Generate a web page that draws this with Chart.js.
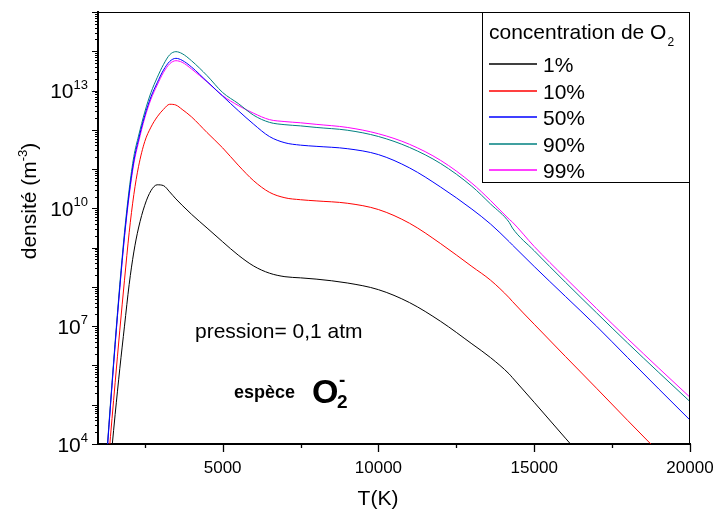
<!DOCTYPE html>
<html>
<head>
<meta charset="utf-8">
<script src="https://cdn.jsdelivr.net/npm/chart.js@4.4.1/dist/chart.umd.min.js"></script>
<style>
html, body { margin: 0; padding: 0; background: #fff; }
</style>
</head>
<body>
<canvas id="chart" width="718" height="524"></canvas>
<script>
// temperature grid (K)
const temps = [1250, 1350, 1450, 1550, 1700, 1850, 2000, 2150, 2300, 2500, 2700, 2900, 3100, 3300, 3500, 3700, 4000, 4500, 5000, 5500, 6000, 6500, 7000, 7500, 8000, 9000, 10000, 11000, 12000, 13000, 13600, 14200, 14300, 15000, 16000, 17000, 18000, 19000, 20000]

// densité (m^-3) for each O2 concentration
const dens1 = [1.55e2, 1.15e3, 8.32e3, 5.62e4, 8.32e5, 1.00e7, 1.15e8, 7.76e8, 3.16e9, 1.20e10, 2.82e10, 3.98e10, 3.80e10, 2.63e10, 1.74e10, 1.20e10, 7.08e9, 3.16e9, 1.41e9, 6.46e8, 3.39e8, 2.24e8, 1.82e8, 1.70e8, 1.58e8, 1.26e8, 8.51e7, 3.98e7, 1.32e7, 3.55e6, 1.58e6, 6.03e5, 4.90e5, 1.15e5, 1.41e4, 1.78e3, null, null, null]
const dens10 = [6.17e2, 5.25e3, 4.47e4, 3.63e5, 7.94e6, 1.48e8, 2.40e9, 2.24e10, 1.15e11, 5.01e11, 1.17e12, 2.14e12, 3.31e12, 4.47e12, 4.27e12, 3.31e12, 2.14e12, 8.51e11, 3.47e11, 1.26e11, 5.01e10, 2.57e10, 1.86e10, 1.66e10, 1.55e10, 1.35e10, 9.33e9, 4.17e9, 1.26e9, 3.31e8, 1.48e8, 5.25e7, 4.27e7, 1.12e7, 1.70e6, 2.63e5, 3.98e4, 6.17e3, 9.33e2]
const dens50 = [2.14e3, 2.69e4, 3.16e5, 3.39e6, 9.77e7, 2.00e9, 2.40e10, 1.62e11, 5.62e11, 2.29e12, 6.92e12, 1.58e13, 3.31e13, 5.50e13, 6.61e13, 5.89e13, 3.98e13, 1.70e13, 7.24e12, 3.09e12, 1.38e12, 6.76e11, 4.68e11, 4.07e11, 3.80e11, 3.31e11, 2.34e11, 1.07e11, 3.47e10, 9.55e9, 3.98e9, 1.41e9, 1.17e9, 3.31e8, 5.75e7, 1.00e7, 1.58e6, 2.51e5, 4.07e4]
const dens90 = [2.51e3, 3.16e4, 3.72e5, 3.98e6, 1.17e8, 2.45e9, 3.02e10, 2.09e11, 6.92e11, 2.82e12, 8.91e12, 2.14e13, 4.57e13, 8.13e13, 9.77e13, 8.71e13, 5.75e13, 2.40e13, 8.91e12, 4.68e12, 2.34e12, 1.55e12, 1.35e12, 1.26e12, 1.15e12, 9.77e11, 6.76e11, 3.55e11, 1.38e11, 3.63e10, 1.29e10, 4.37e9, 3.16e9, 8.32e8, 1.32e8, 2.19e7, 3.72e6, 6.61e5, 1.20e5]
const dens99 = [2.24e3, 2.82e4, 3.16e5, 3.31e6, 9.33e7, 1.82e9, 2.09e10, 1.38e11, 4.79e11, 2.00e12, 6.03e12, 1.38e13, 2.88e13, 4.79e13, 5.75e13, 5.25e13, 3.55e13, 1.66e13, 7.41e12, 4.17e12, 2.63e12, 1.82e12, 1.62e12, 1.51e12, 1.38e12, 1.15e12, 7.94e11, 4.27e11, 1.66e11, 4.37e10, 1.58e10, 5.25e9, 4.47e9, 1.07e9, 1.70e8, 2.82e7, 4.79e6, 8.51e5, 1.55e5]

const seriesLabels = ['1%', '10%', '50%', '90%', '99%']
const seriesColors = ['#000000', '#ff0000', '#0000ff', '#008080', '#ff00ff']

const xTickVals = [2500, 5000, 7500, 10000, 12500, 15000, 17500, 20000]
const xTickLabels = ['', '5000', '', '10000', '', '15000', '', '20000']
const yLabelExps = [4, 7, 10, 13]

const FONT = '"Liberation Sans", Arial, sans-serif'

const allDens = [dens1, dens10, dens50, dens90, dens99]
const datasets = allDens.map((d, i) => ({
  label: seriesLabels[i],
  data: temps.map((t, j) => ({x: t, y: d[j]})),
  borderColor: seriesColors[i],
  borderWidth: 1,
  pointRadius: 0,
  fill: false,
  cubicInterpolationMode: 'monotone',
  spanGaps: false
}))

// axes ticks, labels, legend box and notes
const decorPlugin = {
  id: 'decor',
  afterDraw(chart) {
    const ctx = chart.ctx
    const a = chart.chartArea
    const xs = chart.scales.x, ys = chart.scales.y
    ctx.save()
    ctx.strokeStyle = '#000'
    ctx.fillStyle = '#000'

    // thin frame top / right
    ctx.lineWidth = 1
    ctx.beginPath()
    ctx.moveTo(a.left, a.top + 0.5); ctx.lineTo(a.right, a.top + 0.5)
    ctx.moveTo(a.right - 0.5, a.top); ctx.lineTo(a.right - 0.5, a.bottom)
    ctx.stroke()

    // x ticks
    ctx.lineWidth = 1.3
    ctx.beginPath()
    xTickVals.forEach((v, i) => {
      const px = Math.round(xs.getPixelForValue(v)) + 0.5
      const len = xTickLabels[i] ? 8 : 4
      ctx.moveTo(px, a.bottom); ctx.lineTo(px, a.bottom + len)
    })
    ctx.stroke()
    ctx.font = '17px ' + FONT
    ctx.textAlign = 'center'
    ctx.textBaseline = 'middle'
    xTickVals.forEach((v, i) => {
      if (xTickLabels[i]) ctx.fillText(xTickLabels[i], xs.getPixelForValue(v), a.bottom + 24)
    })

    // y ticks (log decades + minor)
    ctx.lineWidth = 1
    ctx.beginPath()
    for (let e = 4; e <= 15; e++) {
      for (let m = 1; m <= 9; m++) {
        if (e === 15 && m > 1) break
        const py = Math.round(ys.getPixelForValue(m * Math.pow(10, e))) + 0.5
        const len = m === 1 ? 6 : 3
        ctx.moveTo(a.left, py); ctx.lineTo(a.left - len, py)
      }
    }
    ctx.stroke()
    ctx.textBaseline = 'alphabetic'
    ctx.textAlign = 'left'
    yLabelExps.forEach(e => {
      const py = ys.getPixelForValue(Math.pow(10, e))
      ctx.font = '21px ' + FONT
      const wb = ctx.measureText('10').width
      ctx.font = '13px ' + FONT
      const we = ctx.measureText(String(e)).width
      const x0 = a.left - 10 - wb - we
      ctx.font = '21px ' + FONT
      ctx.fillText('10', x0, py + 7.5)
      ctx.font = '13px ' + FONT
      ctx.fillText(String(e), x0 + wb, py - 2)
    })

    // axis titles
    ctx.font = '21px ' + FONT
    ctx.textAlign = 'center'
    ctx.fillText('T(K)', 378, 505)

    ctx.save()
    ctx.translate(36, 201)
    ctx.rotate(-Math.PI / 2)
    ctx.textAlign = 'left'
    ctx.font = '21px ' + FONT
    const w1 = ctx.measureText('densité (m').width
    const w3 = ctx.measureText(')').width
    ctx.font = '13px ' + FONT
    const w2 = ctx.measureText('-3').width
    const start = -(w1 + w2 + w3) / 2
    ctx.font = '21px ' + FONT
    ctx.fillText('densité (m', start, 0)
    ctx.fillText(')', start + w1 + w2, 0)
    ctx.font = '13px ' + FONT
    ctx.fillText('-3', start + w1, -9)
    ctx.restore()

    // legend box
    const lx = 482, ly = 12, lw = 207, lh = 170
    ctx.fillStyle = '#fff'
    ctx.fillRect(lx, ly, lw, lh)
    ctx.strokeStyle = '#000'
    ctx.lineWidth = 1
    ctx.strokeRect(lx + 0.5, ly + 0.5, lw, lh)
    ctx.fillStyle = '#000'
    ctx.textAlign = 'left'
    ctx.font = '21px ' + FONT
    ctx.fillText('concentration de O', 489, 39)
    const wt = ctx.measureText('concentration de O').width
    ctx.font = '12px ' + FONT
    ctx.fillText('2', 489 + wt + 1, 46)
    ctx.font = '21px ' + FONT
    ctx.lineWidth = 1.6
    seriesLabels.forEach((lab, i) => {
      const yy = Math.round(64 + i * 26.5)
      ctx.strokeStyle = seriesColors[i]
      ctx.beginPath()
      ctx.moveTo(489, yy); ctx.lineTo(537, yy)
      ctx.stroke()
      ctx.fillText(lab, 543, yy + 8)
    })

    // notes
    ctx.font = '21px ' + FONT
    ctx.fillText('pression= 0,1 atm', 195, 338)
    ctx.font = 'bold 18px ' + FONT
    ctx.fillText('espèce', 234, 398)
    ctx.font = 'bold 34px ' + FONT
    ctx.fillText('O', 312, 403)
    ctx.font = 'bold 19px ' + FONT
    ctx.fillText('2', 337, 408)
    ctx.fillText('-', 339, 386)

    ctx.restore()
  }
}

new Chart(document.getElementById('chart').getContext('2d'), {
  type: 'line',
  data: { datasets: datasets },
  options: {
    responsive: false,
    animation: false,
    devicePixelRatio: 1,
    layout: { padding: { left: 98, right: 28, top: 12, bottom: 80 } },
    plugins: { legend: { display: false }, tooltip: { enabled: false } },
    scales: {
      x: {
        type: 'linear',
        min: 1000,
        max: 20000,
        grid: { display: false, drawTicks: false },
        ticks: { display: false },
        border: { display: true, color: '#000', width: 2 }
      },
      y: {
        type: 'logarithmic',
        min: 1e4,
        max: 1e15,
        grid: { display: false, drawTicks: false },
        ticks: { display: false },
        border: { display: true, color: '#000', width: 2 }
      }
    }
  },
  plugins: [decorPlugin]
})
</script>
</body>
</html>
